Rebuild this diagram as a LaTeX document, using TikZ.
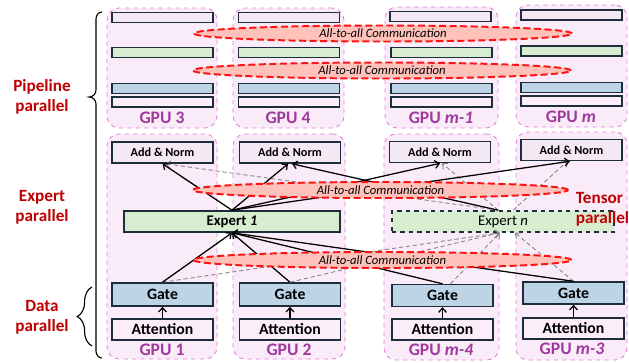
\documentclass[tikz,border=0pt]{standalone}
\usepackage{fontspec}
\setmainfont{Carlito}
\usepackage{tikz}
\usetikzlibrary{arrows.meta}
\usetikzlibrary{shapes.geometric}
\usetikzlibrary{decorations.pathreplacing}
\usetikzlibrary{fit}
\definecolor{gpubg}{HTML}{FAEBF8}
\definecolor{gpuline}{HTML}{E27DE0}
\definecolor{gputext}{HTML}{9E3A9C}
\definecolor{boxline}{HTML}{1E2D3C}
\definecolor{normfill}{HTML}{F4E8F5}
\definecolor{attfill}{HTML}{FBEEF8}
\definecolor{expfill}{HTML}{D6EDD0}
\definecolor{gatefill}{HTML}{BDD4E7}
\definecolor{commfill}{HTML}{FFC2BA}
\definecolor{commred}{HTML}{FF1212}
\definecolor{labelred}{HTML}{C00000}
\tikzstyle{gpu_box}=[draw=gpuline, dashed, fill=gpubg, rounded corners=0.3cm, inner sep=0pt, line width=0.6pt]
\tikzstyle{gpu_label}=[text=gputext, font=\fontsize{12.5}{14}\selectfont\bfseries]
\tikzstyle{layer}=[draw=boxline, line width=1pt, inner sep=0pt, minimum width=2.52cm, font=\fontsize{11.2}{12}\selectfont\bfseries]
\tikzstyle{bar}=[layer, minimum height=0.24cm]
\tikzstyle{comm}=[ellipse, draw=commred, fill=commfill, dash pattern=on 5pt off 2.5pt, line width=1.4pt, minimum width=9.45cm, minimum height=0.4cm, inner sep=0pt, font=\fontsize{9}{10}\selectfont\itshape]
\tikzstyle{side_label}=[text=labelred, align=center, font=\fontsize{12.2}{14}\selectfont\bfseries]
\tikzstyle{flow}=[-{Straight Barb[length=3pt,width=5.5pt]}, line width=0.9pt]
\tikzstyle{flow_alt}=[flow, draw=gray, dash pattern=on 3pt off 2pt, line width=0.6pt]
\begin{document}
\begin{tikzpicture}[x=0.025cm, y=-0.025cm]
\useasboundingbox (0,0) rectangle (629,362);
% gpu frames
\node[gpu_box, fit={(107,8) (217,128)}] (gpu3) {};
\node[gpu_box, fit={(233,8) (344,128)}] (gpu4) {};
\node[gpu_box, fit={(385,7) (498,128)}] (gpum1) {};
\node[gpu_box, fit={(516,5) (627,127)}] (gpum) {};
\node[gpu_box, fit={(107,134) (217,359)}] (gpu1) {};
\node[gpu_box, fit={(233,134) (345,359)}] (gpu2) {};
\node[gpu_box, fit={(384,134) (499,360)}] (gpum4) {};
\node[gpu_box, fit={(516,132) (627,360)}] (gpum3) {};
% pipeline stages
\node[bar, fill=normfill] (b3a) at (162.5,17.5){};
\node[bar, fill=expfill] (b3b) at (162.5,52.5){};
\node[bar, fill=gatefill] (b3c) at (162.5,88.5){};
\node[bar, fill=attfill] (b3d) at (162.5,102){};
\node[bar, fill=normfill] (b4a) at (289,17.5){};
\node[bar, fill=expfill] (b4b) at (289,52.5){};
\node[bar, fill=gatefill] (b4c) at (289,88.5){};
\node[bar, fill=attfill] (b4d) at (289,102){};
\node[bar, fill=normfill] (bm1a) at (440.5,16.5){};
\node[bar, fill=expfill] (bm1b) at (441.5,52.5){};
\node[bar, fill=gatefill] (bm1c) at (441.5,88.5){};
\node[bar, fill=attfill] (bm1d) at (441.5,102){};
\node[bar, fill=normfill] (bma) at (571.5,15){};
\node[bar, fill=expfill] (bmb) at (571.5,51){};
\node[bar, fill=gatefill] (bmc) at (571.5,87.5){};
\node[bar, fill=attfill] (bmd) at (571.5,101){};
\node[gpu_label] (l3) at (162,118){GPU 3};
\node[gpu_label] (l4) at (288,118){GPU 4};
\node[gpu_label] (lm1) at (441,118){GPU \textit{m-1}};
\node[gpu_label] (lm) at (571,117){GPU \textit{m}};
% layers
\node[layer, fill=normfill, minimum height=0.53cm, font=\fontsize{8.7}{10}\selectfont\bfseries] (an1) at (162.5,152.5){Add \& Norm};
\node[layer, fill=normfill, minimum height=0.53cm, font=\fontsize{8.7}{10}\selectfont\bfseries] (an2) at (290,152.5){Add \& Norm};
\node[layer, fill=normfill, minimum height=0.53cm, font=\fontsize{8.7}{10}\selectfont\bfseries] (anm4) at (440,152){Add \& Norm};
\node[layer, fill=normfill, minimum height=0.53cm, font=\fontsize{8.7}{10}\selectfont\bfseries] (anm3) at (571.5,150){Add \& Norm};
\node[layer, fill=expfill, minimum width=5.4cm, minimum height=0.53cm, font=\fontsize{10.5}{12}\selectfont\bfseries] (ex1) at (232,221.5){Expert \textit{1}};
\node[layer, fill=expfill, dashed, minimum width=5.55cm, minimum height=0.53cm, font=\fontsize{10.5}{12}\selectfont] (exn) at (503,221.5){Expert \textit{n}};
\node[layer, fill=gatefill, minimum height=0.58cm] (gate1) at (162.5,294.5){Gate};
\node[layer, fill=gatefill, minimum height=0.58cm] (gate2) at (290,294.5){Gate};
\node[layer, fill=gatefill, minimum height=0.55cm] (gatem4) at (442.5,295.5){Gate};
\node[layer, fill=gatefill, minimum height=0.55cm] (gatem3) at (573.5,293){Gate};
\node[layer, fill=attfill, minimum height=0.53cm] (att1) at (162.5,329.5){Attention};
\node[layer, fill=attfill, minimum height=0.53cm] (att2) at (290,329.5){Attention};
\node[layer, fill=attfill, minimum height=0.53cm] (attm4) at (442.5,329.5){Attention};
\node[layer, fill=attfill, minimum height=0.53cm] (attm3) at (573.5,328.5){Attention};
\node[gpu_label] (l1) at (162,350){GPU 1};
\node[gpu_label] (l2) at (289,350){GPU 2};
\node[gpu_label] (lm4) at (441,350){GPU \textit{m-4}};
\node[gpu_label] (lm3) at (572,349){GPU \textit{m-3}};
% routing
\draw[flow](att1) -- (gate1);
\draw[flow](att2) -- (gate2);
\draw[flow](attm4) -- (gatem4);
\draw[flow](attm3) -- (gatem3);
\draw[flow_alt](gate1.north) -- ([xshift=-0.08cm]exn.south);
\draw[flow_alt](gate2.north) -- ([xshift=-0.08cm]exn.south);
\draw[flow_alt]([xshift=0.2cm]gatem4.north) -- ([xshift=-0.08cm]exn.south);
\draw[flow_alt](gatem3.north) -- ([xshift=0.3cm]exn.south);
\draw[flow](gate1.north) -- (ex1.south);
\draw[flow](gate2.north) -- (ex1.south);
\draw[flow](gatem4.north) -- (ex1.south);
\draw[flow](gatem3.north) -- (ex1.south);
\draw[flow_alt]([xshift=-0.12cm]exn.north) -- ([xshift=0.08cm]an1.south);
\draw[flow_alt]([xshift=-0.12cm]exn.north) -- ([xshift=0.05cm]anm4.south);
\draw[flow_alt]([xshift=0.25cm]exn.north) -- ([xshift=-0.1cm]anm3.south);
\draw[flow]([xshift=-0.12cm]exn.north) -- ([xshift=0.05cm]an2.south);
\draw[flow](ex1.north) -- (an1.south);
\draw[flow](ex1.north) -- ([xshift=-0.05cm]an2.south);
\draw[flow](ex1.north) -- (anm4.south);
\draw[flow](ex1.north) -- ([xshift=-0.04cm]anm3.south);
% all-to-all
\node[comm] (c1) at (383,33.5){All-to-all Communication};
\node[comm] (c2) at (382,70.5){All-to-all Communication};
\node[comm, minimum width=9.38cm] (c3) at (380.5,190){All-to-all Communication};
\node[comm] (c4) at (382.5,260){All-to-all Communication};
% parallel kinds
\node[side_label] (pp) at (42,97){Pipeline\\parallel};
\node[side_label] (ep) at (42,207){Expert\\parallel};
\node[side_label] (dp) at (42,317){Data\\parallel};
\node[side_label, anchor=west, align=left] (tp) at (571,209){Tensor\\parallel};
\draw[line width=0.8pt] (102,12) to[out=180,in=90] (96,19) -- (96,90) to[out=-90,in=0] (89,97)
  to[out=0,in=90] (96,104) -- (96,351) to[out=-90,in=180] (102,358);
\draw[line width=0.8pt, decorate, decoration={brace, amplitude=0.37cm}] (92,346) -- (92,287);
\end{tikzpicture}
\end{document}
